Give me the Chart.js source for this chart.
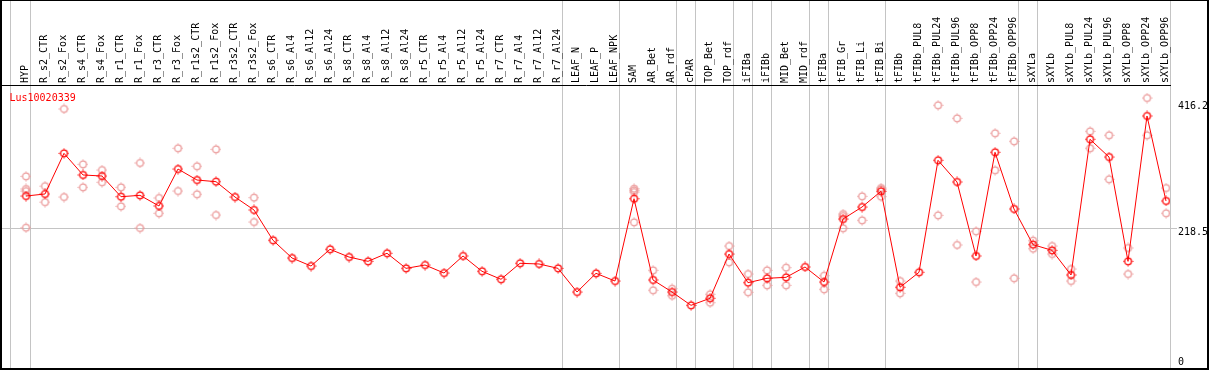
<!DOCTYPE html>
<html>
<head>
<meta charset="utf-8">
<script src="https://cdn.jsdelivr.net/npm/chart.js@4.4.1/dist/chart.umd.min.js"></script>
<style>
  html, body { margin: 0; padding: 0; background: #fff; }
  canvas { display: block; }
</style>
</head>
<body>
<canvas id="chart" width="1209" height="370"></canvas>
<script>
/* ===== Expression profile: Lus10020339 ===== */

const geneName = 'Lus10020339';

const categories = [
  'HYP', 'R_s2_CTR', 'R_s2_Fox', 'R_s4_CTR', 'R_s4_Fox', 'R_r1_CTR', 'R_r1_Fox',
  'R_r3_CTR', 'R_r3_Fox', 'R_r1s2_CTR', 'R_r1s2_Fox', 'R_r3s2_CTR', 'R_r3s2_Fox',
  'R_s6_CTR', 'R_s6_Al4', 'R_s6_Al12', 'R_s6_Al24', 'R_s8_CTR', 'R_s8_Al4',
  'R_s8_Al12', 'R_s8_Al24', 'R_r5_CTR', 'R_r5_Al4', 'R_r5_Al12', 'R_r5_Al24',
  'R_r7_CTR', 'R_r7_Al4', 'R_r7_Al12', 'R_r7_Al24', 'LEAF_N', 'LEAF_P', 'LEAF_NPK',
  'SAM', 'AR_Bet', 'AR_rdf', 'cPAR', 'TOP_Bet', 'TOP_rdf', 'iFIBa', 'iFIBb',
  'MID_Bet', 'MID_rdf', 'tFIBa', 'tFIB_Gr', 'tFIB_Li', 'tFIB_Bi', 'tFIBb',
  'tFIBb_PUL8', 'tFIBb_PUL24', 'tFIBb_PUL96', 'tFIBb_OPP8', 'tFIBb_OPP24', 'tFIBb_OPP96',
  'sXYLa', 'sXYLb', 'sXYLb_PUL8', 'sXYLb_PUL24', 'sXYLb_PUL96', 'sXYLb_OPP8',
  'sXYLb_OPP24', 'sXYLb_OPP96'
];

// mean of the replicates (connected line)
const meanValues = [
  271.0, 274.3, 340.4, 305.2, 303.5, 269.9, 272.1, 254.8, 314.9, 297.0, 294.3, 269.4, 248.3,
  199.0, 170.2, 157.2, 184.4, 171.8, 164.8, 177.9, 153.4, 158.8, 145.8, 173.5, 148.6,
  135.6, 161.6, 160.5, 153.4, 114.9, 145.3, 132.8,
  266.6, 134.5, 114.9, 93.3, 104.7, 176.7, 130.1, 137.2, 138.8, 155.6, 131.2,
  233.6, 253.1, 278.7, 122.6, 147.0, 329.1, 293.8, 173.5, 342.1, 249.9,
  191.9, 182.7, 142.6, 363.2, 334.4, 164.8, 401.1, 262.9
];

// single replicates (null = none shown)
const repA = [
  303.0, 287.0, 412.5, 322.5, 313.3, 285.1, 324.7, 267.8, 348.6, 319.3, 346.9, null, 268.3,
  null, null, null, null, null, null, null, null, null, null, null, null,
  null, null, null, null, null, null, null,
  282.9, 150.2, 120.3, null, 111.2, 189.7, 144.2, 150.2, 154.5, null, 141.4,
  241.7, 270.5, 282.0, 132.8, null, 418.5, 397.3, 213.6, 373.0, 359.9,
  198.4, 189.7, 152.3, 376.2, 369.7, 186.5, 430.3, 284.0
];
const repB = [
  282.5, 261.0, 269.4, 285.1, 293.3, 254.2, 219.0, 242.9, 279.1, 273.8, 240.1, null, 228.7,
  null, null, null, null, null, null, null, null, null, null, null, null,
  null, null, null, null, null, null, null,
  280.3, 117.7, 108.9, null, 97.5, 163.2, 114.5, 125.8, 125.8, null, 119.3,
  238.5, 231.5, 284.0, 112.8, null, 239.6, 191.4, 131.2, 312.8, 137.2,
  185.3, 176.7, 132.8, 348.6, 298.2, 144.2, 369.7, 242.9
];
const repC = [
  279.0, null, null, null, null, null, null, null, null, null, null, null, null,
  null, null, null, null, null, null, null, null, null, null, null, null,
  null, null, null, null, null, null, null,
  277.5, null, null, null, null, null, null, null, null, null, null,
  218.5, null, 270.0, null, null, null, null, null, null, null,
  null, null, null, null, null, null, null, null
];
const repD = [
  219.5, null, null, null, null, null, null, null, null, null, null, null, null,
  null, null, null, null, null, null, null, null, null, null, null, null,
  null, null, null, null, null, null, null,
  228.2, null, null, null, null, null, null, null, null, null, null,
  null, null, null, null, null, null, null, null, null, null,
  null, null, null, null, null, null, null, null
];

const yTicks = [0, 218.5, 416.2];
// group separators, in category units
const separators = [-0.8, 0.25, 28.25, 31.25, 34.25, 35.25, 37.25, 38.25, 39.25,
                    41.25, 42.25, 45.25, 52.25, 53.25, 60.21];

const xMin = -1.263, xMax = 60.21;
const yMin = -8.62, yMax = 451.5;

const MONO = 'DejaVu Sans Mono';

function markerCanvas(color) {
  const c = document.createElement('canvas');
  c.width = 11; c.height = 11;
  const g = c.getContext('2d');
  g.strokeStyle = color;
  g.lineWidth = 1.3;
  g.beginPath();
  g.arc(5.5, 5.5, 3.4, 0, Math.PI * 2);
  g.stroke();
  g.lineWidth = 1;
  g.beginPath();
  g.moveTo(5.5, 0.5); g.lineTo(5.5, 1.6);
  g.moveTo(5.5, 9.4); g.lineTo(5.5, 10.5);
  g.moveTo(0.5, 5.5); g.lineTo(1.6, 5.5);
  g.moveTo(9.4, 5.5); g.lineTo(10.5, 5.5);
  g.stroke();
  return c;
}

const toPoints = arr => arr.map((v, i) => v == null ? null : {x: i, y: v}).filter(p => p);

const repColor = '#eb9a9a';
const repStyle = markerCanvas(repColor);

const datasets = [
  {
    label: geneName,
    data: toPoints(meanValues),
    borderColor: '#ff0000',
    backgroundColor: '#ff0000',
    borderWidth: 1,
    pointStyle: markerCanvas('#ff0000'),
    pointRadius: 5,
    tension: 0
  }
];
[repA, repB, repC, repD].forEach((rep, k) => {
  datasets.push({
    label: 'rep' + (k + 1),
    data: toPoints(rep),
    showLine: false,
    borderColor: repColor,
    backgroundColor: repColor,
    pointStyle: repStyle,
    pointRadius: 5
  });
});

const framePlugin = {
  id: 'frame',
  afterDraw(chart) {
    const {ctx, chartArea} = chart;
    ctx.save();
    ctx.fillStyle = '#ff0000';
    ctx.font = '10px "' + MONO + '"';
    ctx.textBaseline = 'alphabetic';
    ctx.fillText(chart.data.datasets[0].label, chartArea.left + 7.5, chartArea.top + 15.5);
    ctx.strokeStyle = '#000';
    ctx.lineWidth = 2;
    ctx.strokeRect(1, 0, chart.width - 2, chart.height - 1);
    ctx.restore();
  }
};

const noSidePad = s => { s.paddingLeft = 0; s.paddingRight = 0; };

new Chart(document.getElementById('chart'), {
  type: 'line',
  data: { datasets },
  options: {
    responsive: false,
    animation: false,
    events: [],
    layout: { autoPadding: false, padding: { left: 2, right: 2, top: 0, bottom: 2 } },
    plugins: { legend: { display: false }, tooltip: { enabled: false } },
    scales: {
      x: {
        type: 'linear', position: 'top', min: xMin, max: xMax, weight: 10,
        afterBuildTicks: s => { s.ticks = categories.map((_, i) => ({value: i})); },
        afterFit: s => { s.height = 85; noSidePad(s); },
        grid: { display: false, drawTicks: false },
        border: { display: true, color: '#000', width: 1 },
        ticks: {
          autoSkip: false, minRotation: 90, maxRotation: 90, padding: 2, labelOffset: 11,
          color: '#000', font: { family: MONO, size: 10 },
          callback: v => categories[Math.round(v)]
        }
      },
      xs: {
        type: 'linear', position: 'top', min: xMin, max: xMax, weight: 0,
        afterBuildTicks: s => { s.ticks = separators.map(v => ({value: v})); },
        afterFit: s => { s.height = 0; noSidePad(s); },
        grid: { color: '#c4c4c4', lineWidth: 1, drawTicks: true, tickLength: 85 },
        border: { display: false },
        ticks: { display: false }
      },
      y: {
        type: 'linear', position: 'right', min: yMin, max: yMax,
        afterBuildTicks: s => { s.ticks = yTicks.map(v => ({value: v})); },
        afterFit: s => { s.width = 37; s.paddingTop = 0; s.paddingBottom = 0; },
        grid: {
          color: c => (c.tick && c.tick.value === yTicks[1]) ? '#c4c4c4' : 'rgba(0,0,0,0)',
          drawTicks: true, tickLength: 7
        },
        border: { display: false },
        ticks: {
          padding: 1, color: '#000',
          font: { family: MONO, size: 10, lineHeight: 0.75 },
          callback: v => v === yTicks[1] ? ['', String(v)] : String(v)
        }
      }
    }
  },
  plugins: [framePlugin]
});
</script>
</body>
</html>
